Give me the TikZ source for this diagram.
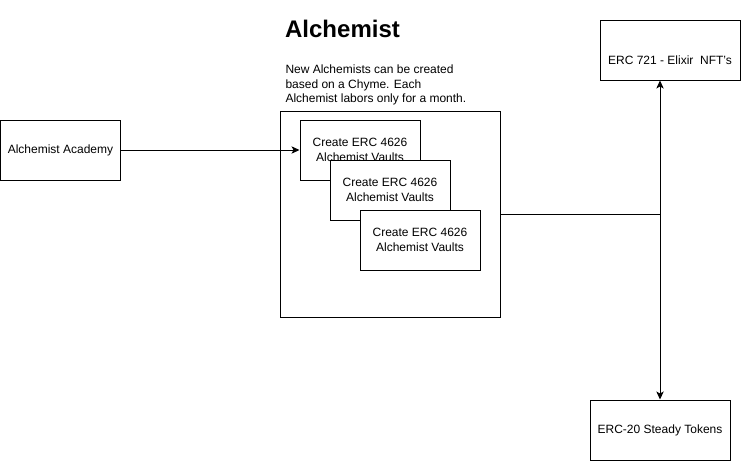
\documentclass[tikz,border=0pt]{standalone}
\usepackage{fontspec}
\setmainfont{Liberation Sans}
\usetikzlibrary{arrows.meta,positioning}

\begin{document}
\begin{tikzpicture}[x=0.75pt,y=-0.75pt,line width=0.75pt,font=\fontsize{9}{10.9}\selectfont]
	\useasboundingbox (0,0) rectangle (741,461);
	\begin{scope}[every node/.style={rectangle,draw,minimum height=45pt,minimum width=90pt,align=center,inner sep=0pt}]
		\node (Academy) at (60.5,150) {Alchemist Academy};
		\node[minimum width=165pt,minimum height=154.5pt] (Factory) at (390,214) {};
		\node[fill=white] (Vault1) at (360,150) {Create ERC 4626\\Alchemist Vaults};
		\node[fill=white] (Vault2) at (390,190) {Create ERC 4626\\Alchemist Vaults};
		\node[fill=white] (Vault3) at (420,240) {Create ERC 4626\\Alchemist Vaults};
		\node[minimum width=105pt,text height=21pt,text depth=0pt] (NFT) at (670,50) {ERC 721 - Elixir\ \ NFT's};
		\node[minimum width=105pt] (Steady) at (660,430) {ERC-20 Steady Tokens};

		\node[draw=none,anchor=west,font=\fontsize{18}{20}\selectfont\bfseries] (Title) at (282,29) {Alchemist};
		\node[draw=none,anchor=north west,align=left] (Note) at (285,54.5) {New Alchemists can be created\\based on a Chyme. Each\\Alchemist labors only for a month.};
	\end{scope}

	\begin{scope}[-{Stealth[length=6pt,width=5.5pt,inset=1.5pt]}]
	\coordinate (Junction) at (660,214);
	\draw (Academy) edge (Vault1);
	\draw[-] (Factory) -- (Junction);
	\draw (Junction) -- (Junction |- NFT.south);
	\draw (Junction) -- (Steady);
	\end{scope}
\end{tikzpicture}
\end{document}
